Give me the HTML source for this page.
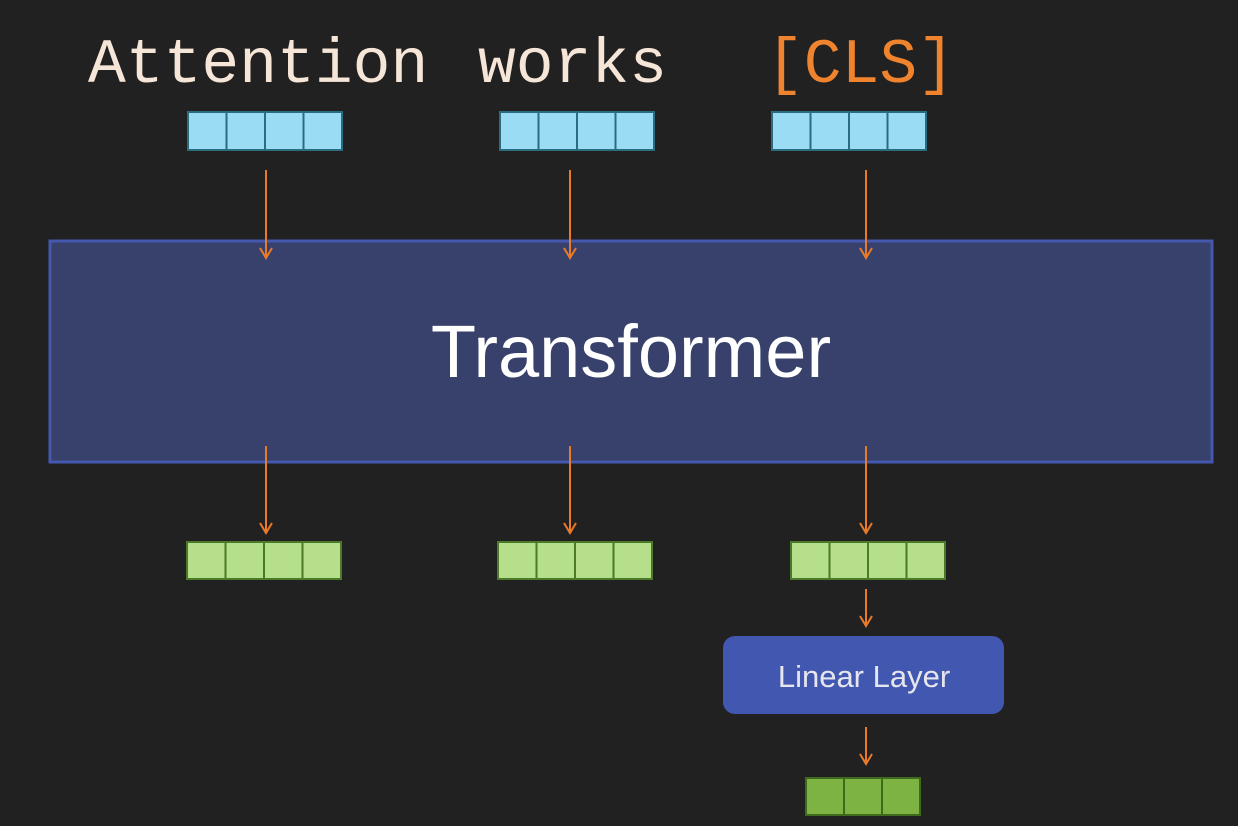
<!DOCTYPE html>
<html><head><style>body{margin:0;background:#212121;}svg{display:block}</style></head>
<body>
<svg width="1238" height="826" viewBox="0 0 1238 826" xmlns="http://www.w3.org/2000/svg">
<rect width="1238" height="826" fill="#212121"/>
<g font-family="Liberation Mono, monospace" font-size="63">
<text x="88" y="82" fill="#f6e6d8">Attention</text>
<text x="478" y="82" fill="#f6e6d8">works</text>
<text x="766" y="82" fill="#f0842e">[CLS]</text>
</g>
<defs>
<g id="bv"><rect x="0" y="0" width="38.5" height="38" fill="#9adcf4" stroke="#2a6c80" stroke-width="2"/></g>
<g id="gv"><rect x="0" y="0" width="38.5" height="37" fill="#b5df8a" stroke="#4c7a2a" stroke-width="2"/></g>
</defs>
<g>
<use href="#bv" x="188" y="112"/><use href="#bv" x="226.5" y="112"/><use href="#bv" x="265" y="112"/><use href="#bv" x="303.5" y="112"/>
<use href="#bv" x="500" y="112"/><use href="#bv" x="538.5" y="112"/><use href="#bv" x="577" y="112"/><use href="#bv" x="615.5" y="112"/>
<use href="#bv" x="772" y="112"/><use href="#bv" x="810.5" y="112"/><use href="#bv" x="849" y="112"/><use href="#bv" x="887.5" y="112"/>
</g>
<rect x="50" y="241" width="1162" height="221" fill="#38416b" stroke="#4458b0" stroke-width="3"/>
<text x="631" y="377" text-anchor="middle" font-family="Liberation Sans, sans-serif" font-size="74" fill="#ffffff">Transformer</text>
<g stroke="#e87a2a" stroke-width="2" fill="none">
<path d="M266,170 V258 M260,248 L266,258 L272,248"/>
<path d="M570,170 V258 M564,248 L570,258 L576,248"/>
<path d="M866,170 V258 M860,248 L866,258 L872,248"/>
<path d="M266,446 V533 M260,523 L266,533 L272,523"/>
<path d="M570,446 V533 M564,523 L570,533 L576,523"/>
<path d="M866,446 V533 M860,523 L866,533 L872,523"/>
<path d="M866,589 V626 M860,616 L866,626 L872,616"/>
<path d="M866,727 V764 M860,754 L866,764 L872,754"/>
</g>
<g>
<use href="#gv" x="187" y="542"/><use href="#gv" x="225.5" y="542"/><use href="#gv" x="264" y="542"/><use href="#gv" x="302.5" y="542"/>
<use href="#gv" x="498" y="542"/><use href="#gv" x="536.5" y="542"/><use href="#gv" x="575" y="542"/><use href="#gv" x="613.5" y="542"/>
<use href="#gv" x="791" y="542"/><use href="#gv" x="829.5" y="542"/><use href="#gv" x="868" y="542"/><use href="#gv" x="906.5" y="542"/>
</g>
<rect x="723" y="636" width="281" height="78" rx="12" fill="#4257b0"/>
<text x="864" y="687" text-anchor="middle" font-family="Liberation Sans, sans-serif" font-size="31" fill="#e6e6ee">Linear Layer</text>
<g fill="#7cb342" stroke="#3f6a1c" stroke-width="2">
<rect x="806" y="778" width="38" height="37"/><rect x="844" y="778" width="38" height="37"/><rect x="882" y="778" width="38" height="37"/>
</g>
</svg>
</body></html>
